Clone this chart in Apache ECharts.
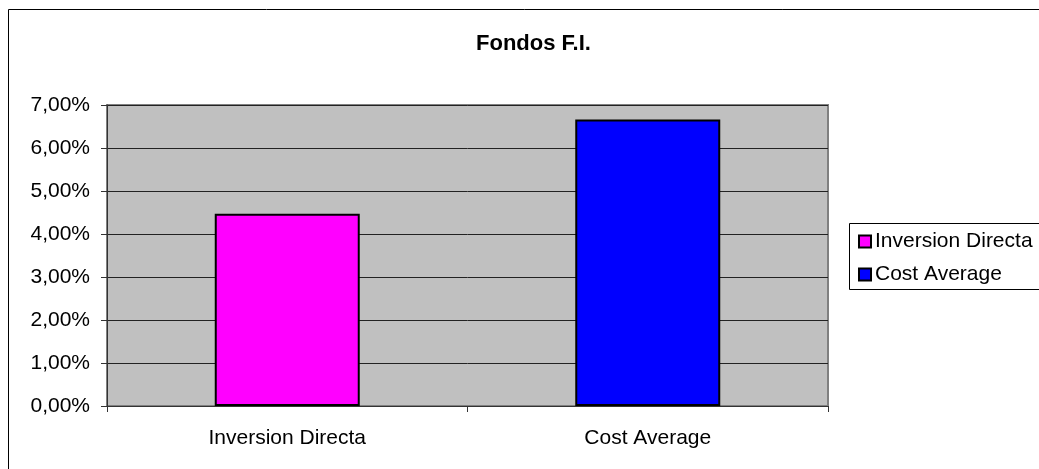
<!DOCTYPE html>
<html>
<head>
<meta charset="utf-8">
<script src="https://cdn.jsdelivr.net/npm/echarts@6/dist/echarts.min.js"></script>
<style>
  html, body { margin: 0; padding: 0; background: #fff; }
  #echarts { width: 1039px; height: 469px; }
</style>
</head>
<body>
<div id="echarts"></div>
<script>
var categories = ["Inversion Directa", "Cost Average"];
var seriesNames = ["Inversion Directa", "Cost Average"];
var inversionData = [4.47, "-"];
var costData = ["-", 6.66];
var colors = ["#FF00FF", "#0000FF"];

var font = "Liberation Sans, Arial, sans-serif";

var myChart = echarts.init(document.getElementById('echarts'));
// 绘制图表
myChart.setOption({
  animation: false,
  color: colors,
  title: {
    text: "Fondos F.I.",
    left: 471,
    top: 28,
    textStyle: { fontFamily: font, fontSize: 22, fontWeight: "bold", color: "#000" }
  },
  graphic: [
    {
      type: "rect",
      shape: { x: 8.5, y: 9.5, width: 1100, height: 600 },
      style: { fill: "none", stroke: "#000", lineWidth: 1 },
      z: 100
    },
    {
      type: "rect",
      shape: { x: 849.5, y: 223.5, width: 250, height: 66 },
      style: { fill: "#fff", stroke: "#000", lineWidth: 1 },
      z: 1
    }
  ],
  legend: {
    data: seriesNames,
    orient: "vertical",
    left: 858,
    top: 231,
    padding: 0,
    itemWidth: 12,
    itemHeight: 12,
    itemGap: 12,
    icon: "rect",
    textStyle: { fontFamily: font, fontSize: 21, color: "#000", padding: [0, 0, 0, -1] },
    z: 10
  },
  grid: {
    left: 107,
    right: 211,
    top: 105,
    bottom: 63,
    show: true,
    backgroundColor: "#C0C0C0",
    borderColor: "#808080",
    borderWidth: 2
  },
  xAxis: {
    type: "category",
    data: categories,
    axisLine: { show: true, lineStyle: { color: "#333", width: 1 } },
    axisTick: { show: true, length: 6, lineStyle: { color: "#333" } },
    axisLabel: { margin: 22, fontFamily: font, fontSize: 21, color: "#000" },
    z: 5
  },
  yAxis: {
    type: "value",
    min: 0,
    max: 7,
    interval: 1,
    axisLine: { show: true, lineStyle: { color: "#333", width: 1 } },
    axisTick: { show: true, length: 6, lineStyle: { color: "#333" } },
    axisLabel: {
      margin: 17,
      fontFamily: font,
      fontSize: 21,
      color: "#000",
      formatter: function (v) { return v.toFixed(2).replace(".", ",") + "%"; }
    },
    splitLine: { show: true, lineStyle: { color: "#222", width: 1 } },
    z: 5
  },
  series: [
    {
      name: seriesNames[0],
      type: "bar",
      barWidth: 145,
      barGap: "-100%",
      data: inversionData,
      itemStyle: { color: colors[0], borderColor: "#000", borderWidth: 2 },
      z: 6
    },
    {
      name: seriesNames[1],
      type: "bar",
      barWidth: 145,
      barGap: "-100%",
      data: costData,
      itemStyle: { color: colors[1], borderColor: "#000", borderWidth: 2 },
      z: 6
    }
  ]
});
</script>
</body>
</html>
